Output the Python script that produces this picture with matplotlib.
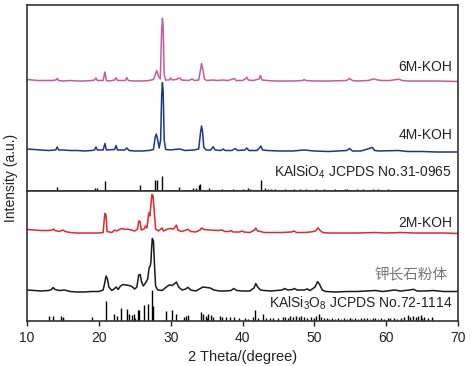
import matplotlib
matplotlib.use("Agg")
import matplotlib.pyplot as plt
import numpy as np
from matplotlib.ticker import MultipleLocator

plt.rcParams['font.family'] = ['Liberation Sans', 'Noto Sans CJK SC', 'DejaVu Sans']
plt.rcParams['mathtext.fontset'] = 'custom'
plt.rcParams['mathtext.rm'] = 'Liberation Sans'
plt.rcParams['mathtext.it'] = 'Liberation Sans'

# ---------------- data (arbitrary intensity units) ----------------
# 6M-KOH trace
theta_6m = [10.0, 10.8, 11.5, 12.5, 13.5, 14.0, 14.2, 14.4, 15.0, 16.0, 17.0, 18.0, 19.0, 19.4, 19.6, 19.8,
            20.6, 20.85, 21.05, 21.5, 22.2, 22.4, 22.6, 23.7, 23.9, 24.1, 25.0, 26.0, 27.0, 27.6, 27.9, 28.05,
            28.3, 28.55, 28.75, 28.85, 28.95, 29.1, 29.3, 29.8, 30.0, 30.2, 30.8, 31.0, 31.3, 31.5, 32.5, 33.0,
            33.3, 33.9, 34.15, 34.3, 34.5, 34.7, 35.0, 35.9, 36.5, 37.2, 38.0, 38.9, 39.1, 40.0, 40.4, 40.6,
            40.8, 41.5, 42.3, 42.5, 42.7, 43.5, 44.5, 46.0, 47.0, 48.4, 48.6, 48.8, 50.0, 52.0, 54.5, 54.9,
            55.3, 56.0, 57.5, 58.0, 58.3, 58.8, 59.5, 60.5, 61.5, 61.8, 62.2, 63.0, 65.0, 67.0, 70.0]
ypx_6m = [79.5, 80, 80.5, 80.5, 80.5, 80, 78.5, 80.5, 81, 80.5, 81, 81, 80.5, 80, 78, 80.5,
          80.5, 72, 80.5, 81, 80, 77.8, 80.5, 80.5, 77.7, 80.5, 81, 81, 80.5, 79.5, 74, 70.5,
          76, 79, 30, 18.5, 25, 75, 80, 80, 78, 80, 79.5, 78.5, 78, 80, 80.5, 79,
          80.5, 80, 70, 63.5, 70, 79, 80.5, 80, 80.5, 80, 80.5, 78.5, 80.5, 80.5, 79, 77.3,
          80, 80.5, 79, 75.5, 80, 80.5, 81, 81, 81, 80.5, 79.5, 80.5, 81, 81, 80.5, 78.5,
          80.5, 81, 80.5, 79.5, 79, 80, 80.5, 80.5, 79.5, 79.2, 80.5, 81, 81, 81, 81.5]

# 4M-KOH trace
theta_4m = [10.0, 11.0, 12.0, 13.0, 14.0, 14.2, 14.4, 15.0, 16.0, 17.0, 18.0, 19.0, 19.4, 19.6, 19.8, 20.6,
            20.85, 21.05, 22.2, 22.4, 22.6, 23.6, 23.9, 24.2, 25.0, 26.0, 27.0, 27.6, 27.85, 28.0, 28.2, 28.4,
            28.6, 28.75, 28.85, 28.95, 29.1, 29.3, 30.0, 30.5, 31.3, 32.0, 33.2, 33.9, 34.15, 34.3, 34.45, 34.6,
            34.9, 35.6, 35.9, 36.2, 37.0, 37.3, 37.6, 38.5, 39.0, 39.3, 40.3, 40.6, 40.9, 42.0, 42.35, 42.55,
            42.8, 43.5, 45.0, 47.0, 48.6, 50.0, 52.0, 54.5, 54.9, 55.3, 56.5, 58.1, 58.4, 59.0, 61.7, 63.0,
            65.0, 67.0, 70.0]
ypx_4m = [149, 149.5, 150, 150.5, 150, 147, 150, 150, 150.5, 150.5, 151, 150.5, 150, 147, 150, 150,
          143.5, 150, 149.5, 145.5, 150, 150, 148, 150.5, 151, 151, 150.5, 149.5, 137, 134, 140, 148,
          140, 95, 82.7, 90, 140, 149.5, 150, 149.5, 149, 150.5, 150, 149, 133, 126, 132, 147,
          150, 150, 146.7, 150, 150.5, 149, 150.5, 150.5, 148.5, 150.5, 150, 148, 150.5, 150.5, 148, 146,
          150, 150.5, 151, 151, 150, 151, 151.5, 150.5, 148.5, 151, 151, 147.5, 150.5, 151, 150.5, 151.5,
          151.5, 152, 152]

# 2M-KOH trace
theta_2m = [10.0, 11.0, 12.0, 13.0, 13.5, 13.7, 13.9, 14.5, 15.0, 15.3, 16.0, 17.0, 18.0, 19.0, 20.0, 20.6,
            20.75, 20.85, 21.0, 21.15, 21.8, 22.2, 22.5, 23.0, 23.3, 23.6, 24.0, 24.5, 25.0, 25.4, 25.55, 25.75,
            25.9, 26.3, 26.5, 26.7, 26.95, 27.1, 27.25, 27.4, 27.55, 27.7, 27.9, 28.3, 28.8, 29.0, 29.6, 30.0,
            30.4, 30.8, 31.0, 31.5, 32.2, 32.4, 32.8, 33.5, 34.1, 34.3, 34.6, 35.5, 36.5, 37.2, 37.5, 38.2,
            38.4, 38.7, 39.6, 39.9, 40.2, 41.0, 41.7, 41.85, 42.1, 42.5, 43.0, 44.0, 45.5, 46.8, 47.2, 47.5,
            48.5, 49.5, 50.2, 50.5, 50.8, 51.2, 52.0, 54.0, 56.0, 58.5, 60.0, 62.0, 64.0, 66.0, 68.0, 70.0]
ypx_2m = [229.5, 230, 230.5, 230.5, 230, 229, 230.5, 231.5, 230, 231.5, 232.5, 233, 233, 233, 233, 232.5,
          220, 213.5, 215, 231.5, 232.5, 230, 231, 229, 228.5, 229.5, 229, 230, 231, 229, 221, 221.5,
          230, 229, 226, 228, 213, 216, 205, 194.5, 196, 210, 229, 231, 228, 231, 229, 228.5,
          229, 225, 230, 231.5, 230, 229.3, 231.5, 232, 230, 228, 229.5, 230, 230.5, 230, 231.5, 231.5,
          230.5, 232, 232, 231, 232, 232.5, 230, 228, 231, 231.5, 232.5, 232.5, 232.5, 232, 231, 232.5,
          232.5, 232, 231, 227.8, 230.5, 232.5, 233, 233, 233, 232.5, 233, 232.5, 233, 233, 233, 233.5]

# potassium feldspar powder trace
theta_kf = [10.0, 11.0, 12.0, 13.0, 13.4, 13.65, 13.9, 14.5, 15.2, 16.0, 17.0, 18.0, 19.0, 20.0, 20.6, 20.85,
            21.0, 21.2, 21.4, 21.8, 22.2, 22.4, 22.7, 23.0, 23.4, 23.8, 24.2, 24.6, 25.0, 25.3, 25.55, 25.75,
            25.95, 26.2, 26.5, 26.8, 27.0, 27.15, 27.25, 27.35, 27.45, 27.6, 27.75, 27.9, 28.2, 28.8, 29.4, 29.8,
            30.2, 30.5, 30.8, 31.1, 31.6, 32.1, 32.4, 32.8, 33.5, 34.0, 34.5, 35.0, 35.5, 36.0, 36.8, 37.5,
            38.4, 38.8, 39.2, 40.0, 41.0, 41.6, 41.85, 42.1, 42.5, 43.0, 44.0, 45.5, 45.9, 46.3, 47.0, 47.2,
            47.6, 48.6, 49.0, 49.4, 50.1, 50.45, 50.7, 51.1, 51.6, 53.0, 54.5, 56.0, 58.5, 59.5, 61.2, 62.0,
            63.3, 63.8, 64.3, 65.5, 66.5, 68.0, 70.0]
ypx_kf = [290, 290.5, 291, 290.5, 289.5, 287.5, 289.5, 290.5, 290, 291.5, 292, 292, 291.5, 291.5, 290, 282,
          276, 279, 287, 290.5, 288.5, 287, 289.5, 286, 284.5, 285, 285.5, 286.5, 289, 287, 275, 274.5,
          282, 286, 283, 279, 268, 266, 262, 248, 238.5, 241, 265, 286, 290, 290.5, 287, 285,
          285.5, 284, 282, 287, 290, 289, 287.3, 290, 291, 289, 287, 287.5, 288, 290, 291, 291,
          290.5, 288.5, 290.5, 291, 291, 288, 283.5, 287, 290, 290.5, 291, 290, 288.5, 290, 289.5, 288.5,
          290, 290, 289, 290.5, 287, 281.7, 284, 290, 291.5, 292, 291.5, 291.5, 290.5, 291.5, 290, 291,
          290, 289.3, 291, 291, 290.5, 291.5, 291.5]

# KAlSiO4 JCPDS No.31-0965 reference sticks
kalsio4_pos = [14.2, 19.5, 19.8, 20.9, 25.8, 27.8, 28.05, 28.75, 31.2, 33.1, 33.5, 34.0, 34.15, 35.3, 37.2,
               38.7, 40.1, 40.7, 41.0, 42.55, 43.1, 43.6, 44.0, 44.5, 45.9, 47.1, 48.0, 48.85, 50.2, 51.4,
               52.9, 54.3, 54.5, 55.9, 56.8, 58.1, 58.9, 60.3]
kalsio4_int = [4, 3.5, 3.5, 10, 6, 11.5, 11.5, 15, 4, 3.5, 3.5, 6, 7.5, 3.5, 2.5,
               2, 2.5, 3, 2, 11, 3, 2, 2.5, 2.5, 2, 2, 2, 2, 2, 2,
               2, 2.5, 2, 2, 2, 2, 2, 2]

# KAlSi3O8 JCPDS No.72-1114 reference sticks
kalsi3o8_pos = [13.0, 13.6, 14.8, 15.05, 19.1, 21.0, 22.15, 22.5, 23.1, 23.9, 24.2, 24.6, 24.9, 25.5, 25.65,
                26.3, 26.9, 27.4, 27.6, 29.3, 30.15, 30.7, 31.8, 32.2, 32.45, 34.2, 34.5, 34.9, 35.2, 35.6,
                35.85, 36.9, 37.1, 37.7, 38.2, 38.8, 39.5, 40.3, 40.7, 41.4, 41.7, 42.2, 42.9, 43.3, 43.8,
                44.3, 45.6, 45.9, 46.3, 46.6, 47.0, 47.4, 47.8, 48.2, 48.6, 49.0, 49.5, 49.9, 50.3, 50.6,
                50.9, 51.3, 51.7, 52.1, 52.5, 52.9, 53.3, 53.7, 54.1, 54.5, 54.9, 55.3, 55.7, 56.1, 56.5,
                56.9, 57.3, 57.7, 58.1, 58.5, 58.9, 59.3, 59.7, 60.2, 60.6, 61.1, 61.5, 62.0, 62.5, 63.0,
                63.3, 63.7, 64.1, 64.5, 64.9, 65.3, 65.8, 66.4]
kalsi3o8_int = [5.5, 5.5, 5.5, 4, 4.5, 20, 7.5, 5.5, 13.5, 12.5, 7, 6, 7.5, 11.5, 11.5,
                16.5, 17.5, 31.5, 15, 10, 11.5, 7.5, 4, 5.5, 6.5, 9, 7.5, 5.5, 7.5, 6.5,
                4.5, 5.5, 4.5, 4, 4, 4, 3, 3, 2.5, 4, 11.5, 3, 7, 3, 3,
                3.5, 4, 4.5, 3.5, 5, 4, 5.5, 4, 5, 4, 3.5, 4, 3, 5, 7.5,
                4, 3, 3, 2.5, 3, 2.5, 3, 2.5, 3, 2.5, 3, 2.5, 3, 2.5, 3,
                3.5, 3, 2.5, 3, 3.5, 2.5, 3, 2.5, 3, 3.5, 3, 2.5, 3, 4, 6.5,
                4.5, 5, 4, 5, 6.5, 4, 3.5, 4.5]

labels = ['6M-KOH', '4M-KOH', 'KAlSiO$_4$ JCPDS No.31-0965',
          '2M-KOH', '钾长石粉体', 'KAlSi$_3$O$_8$ JCPDS No.72-1114']
xticks = [10, 20, 30, 40, 50, 60, 70]

# ---------------- figure ----------------
W, H = 472, 366
fig = plt.figure(figsize=(W / 100, H / 100), dpi=100)
left, right = 27 / W, 458 / W
y_top, y_mid, y_bot = 1 - 5 / H, 1 - 191 / H, 1 - 321 / H
ax_t = fig.add_axes([left, y_mid, right - left, y_top - y_mid])
ax_b = fig.add_axes([left, y_bot, right - left, y_mid - y_bot], sharex=ax_t)

# top panel: y in "pixel" units measured from the panel bottom (191 px)
ax_t.plot(theta_6m, 191 - np.array(ypx_6m), color='#c65a9f', lw=1.1)
ax_t.plot(theta_4m, 191 - np.array(ypx_4m), color='#1c3591', lw=1.1)
ax_t.vlines(kalsio4_pos, 0, kalsio4_int, color='black', lw=1.0)
ax_t.set_ylim(0, 186)

# bottom panel: y measured from panel bottom (321 px)
ax_b.plot(theta_2m, 321 - np.array(ypx_2m), color='#e3262a', lw=1.1)
ax_b.plot(theta_kf, 321 - np.array(ypx_kf), color='#1a1a1a', lw=1.1)
ax_b.vlines(kalsi3o8_pos, 0, kalsi3o8_int, color='black', lw=1.0)
ax_b.set_ylim(0, 130)

ax_b.set_xlim(10, 70)
ax_b.set_xticks(xticks)
ax_b.xaxis.set_minor_locator(MultipleLocator(5))
ax_b.tick_params(axis='x', which='major', direction='out', length=3.5, width=1.0,
                 labelsize=10, colors='#222222', pad=3.5)
ax_b.tick_params(axis='x', which='minor', direction='in', length=2.5, width=1.0, colors='#222222')
ax_t.tick_params(axis='x', which='both', bottom=False, labelbottom=False)
for ax in (ax_t, ax_b):
    ax.set_yticks([])
    for s in ax.spines.values():
        s.set_color('#333333')
        s.set_linewidth(1.2)

tc = '#222222'
fs = 10
ax_t.text(69.2, 124, labels[0], ha='right', va='center', fontsize=fs, color=tc)
ax_t.text(69.2, 56, labels[1], ha='right', va='center', fontsize=fs, color=tc)
ax_t.text(69.2, 18.5, labels[2], ha='right', va='center', fontsize=fs, color=tc)
ax_b.text(69.2, 98, labels[3], ha='right', va='center', fontsize=fs, color=tc)
ax_b.text(68.6, 46, labels[4], ha='right', va='center', fontsize=10.5, color='#777777',
          family=['Noto Sans CJK SC', 'DejaVu Sans'])
ax_b.text(69.2, 17.5, labels[5], ha='right', va='center', fontsize=fs, color=tc)

ax_b.set_xlabel('2 Theta/(degree)', fontsize=10.5, color=tc, labelpad=4)
fig.text(11 / W, 1 - 178 / H, 'Intensity (a.u.)', rotation=90, ha='center', va='center',
         fontsize=10, color=tc)

fig.savefig('out.png', dpi=100)
